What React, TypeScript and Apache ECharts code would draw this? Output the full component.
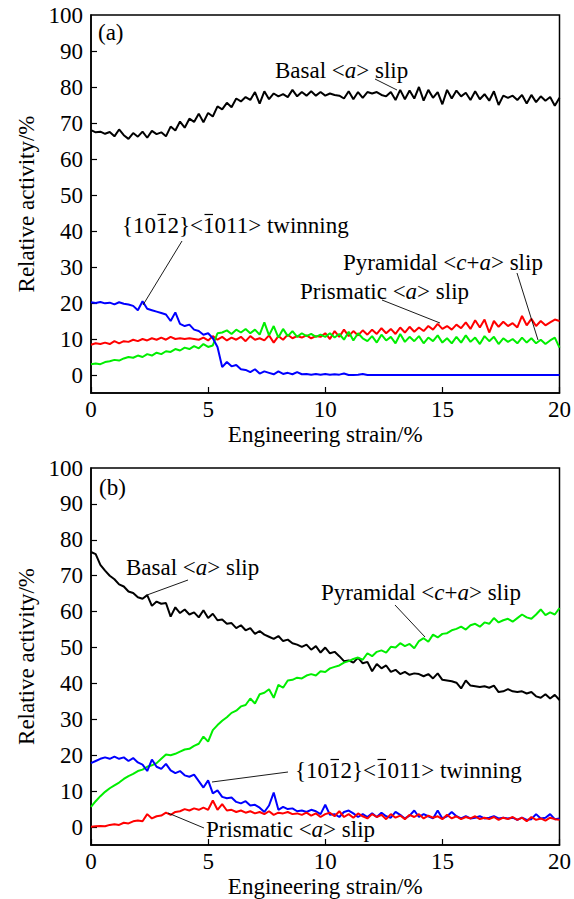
import React, { useEffect, useRef } from "react";
import * as echarts from "echarts";

const STRAIN = [
  0, 0.2, 0.4, 0.6, 0.8, 1, 1.2, 1.4, 1.6, 1.8, 2, 2.2, 2.4, 2.6, 2.8, 3, 3.2, 3.4, 3.6, 3.8,
  4, 4.2, 4.4, 4.6, 4.8, 5, 5.2, 5.4, 5.6, 5.8, 6, 6.2, 6.4, 6.6, 6.8, 7, 7.2, 7.4, 7.6, 7.8,
  8, 8.2, 8.4, 8.6, 8.8, 9, 9.2, 9.4, 9.6, 9.8, 10, 10.2, 10.4, 10.6, 10.8, 11, 11.2, 11.4, 11.6, 11.8,
  12, 12.2, 12.4, 12.6, 12.8, 13, 13.2, 13.4, 13.6, 13.8, 14, 14.2, 14.4, 14.6, 14.8, 15, 15.2, 15.4, 15.6, 15.8,
  16, 16.2, 16.4, 16.6, 16.8, 17, 17.2, 17.4, 17.6, 17.8, 18, 18.2, 18.4, 18.6, 18.8, 19, 19.2, 19.4, 19.6, 19.8, 20,
];

// Panel (a)
const A_BASAL = [
  68.0, 67.4, 67.6, 67.0, 67.5, 66.3, 68.2, 66.6, 65.6, 67.2, 66.2, 67.6, 65.9, 67.8, 66.9, 67.4, 66.3, 69.0, 67.9, 70.4,
  68.7, 71.2, 70.3, 72.6, 70.2, 72.8, 71.8, 74.6, 73.8, 75.6, 74.4, 76.8, 76.0, 77.2, 76.4, 78.6, 75.4, 78.8, 76.6, 78.2,
  77.4, 78.0, 77.2, 79.2, 77.4, 78.6, 77.6, 78.8, 77.6, 78.6, 77.6, 78.2, 77.8, 77.6, 76.8, 78.8, 76.6, 78.6, 77.0, 78.6,
  78.2, 78.6, 77.8, 77.4, 78.6, 76.4, 79.2, 76.6, 79.0, 76.8, 80.0, 76.2, 79.2, 77.0, 78.6, 75.2, 79.2, 76.8, 79.0, 77.4,
  78.4, 76.4, 78.8, 76.6, 78.0, 76.2, 78.8, 75.0, 77.6, 77.0, 77.6, 76.4, 77.8, 75.4, 77.8, 75.8, 77.4, 76.2, 77.2, 74.8, 77.0,
];
const A_TWIN = [
  20.2, 20.0, 20.3, 19.9, 20.1, 19.6, 20.2, 19.8, 19.6, 19.2, 18.0, 20.5, 18.4, 18.0, 17.6, 17.2, 16.8, 15.0, 17.4, 14.2,
  13.6, 14.0, 12.6, 12.2, 11.2, 11.6, 10.2, 7.8, 2.2, 3.6, 2.4, 2.8, 1.6, 1.4, 0.8, 1.6, 0.4, 1.0, 0.6, 0.2,
  1.0, 0.3, 0.6, 0.2, 0.8, 0.2, 0.3, 0.1, 0.3, 0.1, 0.3, 0.1, 0.2, 0.1, 0.4, 0, 0, 0.1, 0.3, 0,
  0, 0, 0, 0, 0, 0, 0, 0, 0, 0, 0, 0, 0, 0, 0, 0, 0, 0, 0, 0,
  0, 0, 0, 0, 0, 0, 0, 0, 0, 0, 0, 0, 0, 0, 0, 0, 0, 0, 0, 0, 0,
];
const A_PRISM = [
  8.4, 8.8, 8.6, 9.0, 8.6, 9.4, 8.8, 9.4, 9.2, 9.8, 9.4, 10.0, 9.6, 10.2, 9.8, 10.4, 9.8, 10.6, 10.0, 10.2,
  10.0, 10.2, 10.0, 9.8, 10.4, 9.6, 10.8, 9.8, 10.6, 9.6, 10.4, 9.8, 10.6, 9.4, 10.8, 9.8, 10.2, 9.6, 11.0, 9.0,
  10.8, 9.8, 11.2, 10.2, 10.8, 10.4, 11.0, 10.2, 10.8, 10.6, 11.6, 10.0, 12.2, 10.6, 12.6, 10.8, 12.2, 11.0, 12.4, 11.2,
  12.6, 11.4, 13.0, 11.6, 12.8, 11.4, 13.2, 11.8, 13.4, 12.0, 13.2, 12.2, 13.6, 12.6, 14.2, 12.8, 13.6, 12.6, 14.0, 13.0,
  14.6, 12.8, 15.2, 13.2, 15.4, 11.8, 15.0, 13.4, 14.8, 13.6, 14.4, 13.2, 16.4, 13.8, 15.6, 13.6, 15.0, 13.8, 14.6, 15.4, 15.0,
];
const A_PYRAM = [
  3.0, 3.2, 3.0, 3.6, 3.8, 4.2, 4.0, 4.6, 5.0, 4.8, 5.4, 5.0, 5.8, 5.4, 6.2, 5.8, 6.6, 6.4, 7.2, 6.8,
  7.6, 7.2, 8.0, 7.4, 8.6, 7.8, 8.2, 11.6, 11.8, 12.4, 11.4, 12.6, 11.8, 12.8, 11.6, 12.6, 11.2, 14.6, 11.0, 13.6,
  10.4, 12.8, 10.8, 12.2, 10.6, 11.6, 10.8, 11.4, 10.6, 11.2, 10.6, 11.6, 10.4, 11.4, 9.8, 12.0, 9.6, 11.6, 10.2, 9.4,
  10.8, 9.0, 11.2, 9.6, 10.6, 8.8, 11.4, 9.2, 10.6, 9.4, 10.8, 8.8, 10.4, 9.4, 11.0, 9.0, 10.2, 8.8, 10.6, 9.0,
  11.0, 9.2, 10.4, 8.6, 10.8, 9.4, 10.6, 8.6, 10.2, 9.2, 10.0, 8.8, 10.4, 9.0, 10.2, 8.8, 9.8, 8.6, 9.6, 10.4, 7.6,
];

// Panel (b)
const B_BASAL = [
  76.6, 76.0, 73.0, 71.4, 70.0, 69.0, 67.6, 67.0, 65.6, 65.2, 64.0, 63.6, 64.6, 61.6, 62.8, 62.2, 62.4, 58.6, 61.2, 59.6,
  60.6, 59.2, 59.8, 58.4, 60.4, 58.2, 59.4, 57.6, 57.8, 56.6, 56.8, 55.4, 56.2, 54.8, 55.4, 53.8, 54.6, 53.6, 53.0, 52.4,
  53.2, 51.8, 52.2, 51.2, 50.8, 50.2, 50.8, 49.4, 50.4, 48.6, 50.0, 48.4, 48.8, 47.6, 46.2, 46.4, 45.8, 47.2, 45.6, 46.0,
  43.4, 45.4, 44.2, 45.0, 43.2, 43.8, 42.6, 43.2, 42.4, 42.8, 42.6, 42.0, 42.6, 41.4, 42.8, 41.0, 40.8, 40.6, 40.2, 38.6,
  40.8, 39.4, 39.2, 39.0, 39.2, 38.8, 39.4, 37.6, 37.8, 38.4, 37.8, 37.6, 37.8, 37.2, 37.6, 36.4, 36.0, 37.0, 35.8, 36.8, 35.4,
];
const B_PYRAM = [
  5.6, 7.2, 8.6, 9.8, 10.8, 11.6, 12.4, 13.4, 14.2, 14.8, 15.6, 16.0, 16.8, 17.2, 17.8, 19.0, 20.2, 20.0, 20.4, 21.0,
  21.6, 21.8, 22.6, 23.2, 25.2, 23.8, 27.0, 28.4, 29.6, 30.6, 31.8, 32.4, 33.6, 34.0, 35.8, 34.4, 37.0, 37.4, 38.4, 36.0,
  39.6, 38.8, 40.8, 41.0, 41.6, 41.4, 42.2, 42.6, 42.2, 43.4, 43.2, 44.2, 44.6, 45.0, 45.8, 46.2, 46.8, 47.2, 46.6, 48.4,
  47.6, 48.8, 49.2, 48.6, 50.2, 50.0, 51.2, 50.4, 51.0, 49.8, 51.8, 52.6, 51.6, 53.6, 52.8, 53.8, 54.0, 54.8, 55.2, 55.8,
  55.0, 56.2, 56.6, 55.8, 57.0, 56.6, 58.2, 57.0, 57.6, 58.0, 57.2, 58.2, 59.2, 58.4, 58.0, 59.2, 60.6, 59.0, 59.8, 59.2, 61.0,
];
const B_TWIN = [
  17.8, 18.4, 19.0, 19.4, 19.0, 19.6, 19.0, 19.4, 18.4, 19.2, 18.0, 17.4, 15.6, 18.8, 16.8, 16.2, 17.6, 15.8, 15.0, 15.6,
  14.4, 14.0, 14.6, 12.8, 11.0, 13.0, 9.4, 10.2, 8.4, 8.0, 8.2, 7.0, 6.6, 7.2, 6.0, 6.2, 5.4, 4.2, 6.0, 9.6,
  4.8, 5.6, 5.0, 5.2, 4.4, 4.6, 4.2, 4.8, 4.4, 3.6, 6.2, 3.4, 3.6, 2.8, 4.2, 4.6, 3.8, 2.8, 3.6, 2.8,
  3.8, 2.8, 4.0, 3.0, 2.6, 4.2, 3.4, 2.4, 3.2, 4.6, 2.8, 3.6, 3.0, 2.4, 4.6, 2.4, 3.0, 4.2, 3.0, 2.4,
  3.0, 2.4, 2.6, 3.0, 2.4, 2.6, 3.0, 2.4, 2.6, 2.4, 2.6, 2.0, 2.6, 2.0, 2.2, 3.6, 2.4, 2.6, 3.6, 2.2, 2.4,
];
const B_PRISM = [
  0.1, 0.2, 0.3, 0.2, 0.6, 0.8, 0.6, 1.2, 1.0, 1.6, 1.8, 1.6, 3.6, 2.4, 3.0, 3.2, 4.0, 3.4, 4.2, 4.4,
  5.0, 4.6, 5.2, 4.8, 5.4, 4.8, 7.4, 4.8, 6.4, 4.6, 4.8, 4.2, 4.6, 4.0, 4.4, 3.8, 4.2, 3.6, 4.4, 3.4,
  4.0, 3.8, 4.2, 3.6, 3.8, 3.4, 4.0, 3.2, 3.8, 2.8, 3.6, 4.0, 3.0, 4.4, 2.8, 3.6, 2.6, 3.8, 3.0, 2.4,
  3.6, 2.8, 3.4, 2.2, 3.6, 2.6, 3.2, 2.2, 3.4, 2.8, 3.6, 2.4, 3.2, 2.6, 3.0, 2.2, 3.4, 2.4, 3.0, 2.2,
  2.8, 2.4, 3.0, 2.2, 2.6, 2.2, 2.8, 2.0, 2.6, 2.2, 2.8, 2.0, 2.6, 1.6, 2.8, 2.0, 2.4, 1.8, 2.6, 2.2, 2.0,
];

const Y_LABELS = [0, 10, 20, 30, 40, 50, 60, 70, 80, 90, 100];
const Y_TICKS = [0, 10, 20, 30, 40, 50, 60, 70, 80, 90];
const X_NAME = "Engineering strain/%";
const Y_NAME = "Relative activity/%";

const FONT = "Liberation Serif";
const BLACK = "#000000";
const BLUE = "#0000ff";
const RED = "#ff0000";
const GREEN = "#00ee00";

const pairs = (ys: number[]) => ys.map((v, i) => [STRAIN[i], v]);

function xAxisFor(gridIndex: number) {
  return {
    gridIndex,
    type: "value",
    min: 0,
    max: 20,
    interval: 5,
    axisLine: { show: true, onZero: false, lineStyle: { color: "#000", width: 1.5 } },
    axisTick: { show: true, inside: true, length: 6, lineStyle: { color: "#000", width: 1.2 } },
    axisLabel: { color: "#000", fontSize: 23, fontFamily: FONT, margin: 5 },
    splitLine: { show: false },
    name: X_NAME,
    nameLocation: "middle",
    nameGap: 30,
    nameTextStyle: { color: "#000", fontSize: 23, fontFamily: FONT },
  };
}

function yAxisFor(gridIndex: number) {
  return {
    gridIndex,
    type: "value",
    min: -5,
    max: 100,
    axisLine: { show: true, onZero: false, lineStyle: { color: "#000", width: 1.5 } },
    axisTick: {
      show: true,
      inside: true,
      length: 6,
      customValues: Y_TICKS,
      lineStyle: { color: "#000", width: 1.2 },
    },
    axisLabel: { color: "#000", fontSize: 23, fontFamily: FONT, margin: 8, customValues: Y_LABELS },
    splitLine: { show: false },
    name: Y_NAME,
    nameLocation: "middle",
    nameRotate: 90,
    nameGap: 52,
    nameTextStyle: { color: "#000", fontSize: 23, fontFamily: FONT },
  };
}

function line(name: string, ys: number[], color: string, idx: number) {
  return {
    name,
    type: "line",
    xAxisIndex: idx,
    yAxisIndex: idx,
    data: pairs(ys),
    showSymbol: false,
    symbol: "none",
    lineStyle: { color, width: 2 },
    itemStyle: { color },
    silent: true,
  };
}

function label(x: number, y: number, text: string, rich: boolean) {
  const style: any = {
    text,
    fill: "#000",
    fontSize: 23,
    fontFamily: FONT,
    verticalAlign: "middle",
  };
  if (rich) {
    style.rich = {
      n: { fontSize: 23, fontFamily: FONT, fill: "#000" },
      i: { fontStyle: "italic", fontSize: 23, fontFamily: FONT, fill: "#000" },
    };
  }
  return { type: "text", x, y, z: 100, style };
}

function leader(x1: number, y1: number, x2: number, y2: number, w = 0.9) {
  return {
    type: "line",
    shape: { x1, y1, x2, y2 },
    style: { stroke: "#000", lineWidth: w },
    z: 100,
  };
}

// twinning label with bars drawn over the "1" digits
const TWIN_TEXT = "{1012}<1011> twinning";
function twinLabel(x: number, y: number) {
  return [
    label(x, y, TWIN_TEXT, false),
    leader(x + 35.5, y - 10.5, x + 44, y - 10.5, 1.2),
    leader(x + 82.5, y - 10.5, x + 91, y - 10.5, 1.2),
  ];
}

export default function App() {
  const ref = useRef<HTMLDivElement>(null);
  useEffect(() => {
    document.body.style.margin = "0";
    if (!ref.current) return;
    const chart = echarts.init(ref.current, undefined, { renderer: "svg" });
    chart.setOption({
      animation: false,
      grid: [
        { left: 91, top: 15, width: 470, height: 378, show: true, borderColor: "#000", borderWidth: 1.5 },
        { left: 91, top: 468, width: 470, height: 377, show: true, borderColor: "#000", borderWidth: 1.5 },
      ],
      xAxis: [xAxisFor(0), xAxisFor(1)],
      yAxis: [yAxisFor(0), yAxisFor(1)],
      series: [
        line("Basal <a> slip (a)", A_BASAL, BLACK, 0),
        line("Prismatic <a> slip (a)", A_PRISM, RED, 0),
        line("Pyramidal <c+a> slip (a)", A_PYRAM, GREEN, 0),
        line("Twinning (a)", A_TWIN, BLUE, 0),
        line("Basal <a> slip (b)", B_BASAL, BLACK, 1),
        line("Pyramidal <c+a> slip (b)", B_PYRAM, GREEN, 1),
        line("Twinning (b)", B_TWIN, BLUE, 1),
        line("Prismatic <a> slip (b)", B_PRISM, RED, 1),
      ],
      graphic: [
        label(98, 32, "(a)", false),
        label(275, 70, "{n|Basal <}{i|a}{n|> slip}", true),
        leader(375, 79, 397, 90),
        ...twinLabel(122, 225),
        leader(182, 241, 143, 305),
        label(343, 262, "{n|Pyramidal <}{i|c}{n|+}{i|a}{n|> slip}", true),
        leader(517, 273, 538, 340),
        label(300, 291, "{n|Prismatic <}{i|a}{n|> slip}", true),
        leader(382, 300, 440, 323),

        label(99, 487, "(b)", false),
        label(126, 567, "{n|Basal <}{i|a}{n|> slip}", true),
        leader(188, 580, 147, 595),
        label(321, 592, "{n|Pyramidal <}{i|c}{n|+}{i|a}{n|> slip}", true),
        leader(395, 605, 425, 637),
        ...twinLabel(295, 770),
        leader(288, 772, 212, 782),
        label(206, 829, "{n|Prismatic <}{i|a}{n|> slip}", true),
        leader(204, 828, 168, 813),
      ],
    });
    return () => chart.dispose();
  }, []);
  return <div ref={ref} style={{ width: 574, height: 899 }} />;
}
